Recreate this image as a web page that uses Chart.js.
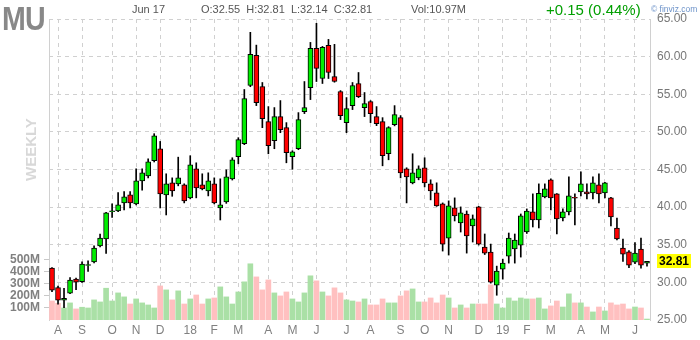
<!DOCTYPE html>
<html>
<head>
<meta charset="utf-8">
<script src="https://cdn.jsdelivr.net/npm/chart.js@4.4.0/dist/chart.umd.min.js"></script>
<style>
body { margin: 0; background: #fff; }
#wrap { position: relative; width: 700px; height: 340px; font-family: 'Liberation Sans', Arial, sans-serif; }
#c { position: absolute; left: 0; top: 0; }
.hd { position: absolute; top: 3px; font-size: 11px; color: #555; white-space: nowrap; }
#ticker { position: absolute; left: 2px; top: -1px; font-size: 34px; font-weight: bold; color: #888; transform: scaleX(0.84); transform-origin: left top; letter-spacing: -1px; }
#weekly { position: absolute; left: 22px; top: 181px; font-size: 15px; font-weight: bold; color: #d8d8d8; transform: rotate(-90deg); transform-origin: left top; }
#chg { position: absolute; left: 546px; top: 1px; font-size: 15px; color: #009f00; white-space: nowrap; }
#fv { position: absolute; left: 651px; top: 4px; font-size: 8.5px; color: #6d93c9; white-space: nowrap; }
</style>
</head>
<body>
<div id="wrap">
  <canvas id="c" width="700" height="340"></canvas>
  <div id="ticker">MU</div>
  <div id="weekly">WEEKLY</div>
  <div class="hd" style="left:132px">Jun 17</div>
  <div class="hd" style="left:201px">O:32.55&nbsp; H:32.81&nbsp; L:32.14&nbsp; C:32.81</div>
  <div class="hd" style="left:411px">Vol:10.97M</div>
  <div id="chg">+0.15 (0.44%)</div>
  <div id="fv">&copy; finviz.com</div>
</div>
<script>
// weekly bars, first week starts Mon Jul 24 2017
let startWeek = Date.UTC(2017, 6, 24);

let opens = [31.9, 29.3, 27.63, 28.56, 30.43, 30.11, 32.25, 32.73, 34.83, 35.76,
  39.4, 39.49, 40.56, 41.63, 40.43, 43.49, 44.16, 46.16, 47.76, 41.63,
  43.23, 43.09, 42.96, 41.23, 45.09, 42.96, 42.16, 43.09, 39.89, 40.69,
  43.76, 46.69, 48.43, 56.16, 60.16, 56.03, 51.36, 48.83, 52.03, 50.56,
  46.69, 47.76, 52.69, 55.89, 61.09, 57.09, 61.49, 57.36, 55.36, 51.23,
  53.49, 56.43, 53.23, 54.03, 52.03, 51.36, 47.09, 50.96, 51.89, 45.09,
  43.23, 43.89, 45.23, 43.09, 41.89, 40.43, 35.89, 39.89, 37.89, 39.09,
  37.49, 40.03, 34.69, 34.03, 29.63, 31.76, 33.49, 34.43, 34.96, 36.69,
  39.36, 38.29, 41.36, 43.63, 41.76, 38.56, 39.36, 41.3, 42.03, 42.03,
  41.89, 42.96, 41.89, 41.23, 37.23, 34.56, 34.07, 32.69, 34.43, 32.55];
let highs = [31.95, 29.5, 29.2, 30.64, 30.56, 32.73, 32.87, 34.87, 36.42, 39.3,
  40.43, 41.93, 42.07, 42.07, 45.09, 45.09, 46.43, 49.76, 48.73, 44.43,
  43.89, 46.64, 43.1, 46.83, 45.89, 44.43, 44.56, 43.89, 43.76, 44.96,
  46.56, 49.23, 55.63, 63.23, 61.53, 56.56, 53.36, 53.23, 54.16, 51.23,
  47.49, 52.56, 56.69, 61.89, 64.43, 61.36, 62.29, 61.63, 55.49, 54.56,
  56.56, 57.89, 55.23, 54.16, 53.36, 51.89, 50.69, 53.49, 52.16, 45.23,
  47.09, 45.49, 46.56, 43.63, 43.23, 40.56, 40.83, 41.23, 40.03, 39.49,
  38.96, 40.1, 36.43, 35.09, 32.16, 33.09, 36.56, 36.43, 39.09, 39.76,
  41.76, 43.09, 43.09, 43.76, 41.8, 39.76, 44.03, 41.76, 44.69, 43.09,
  44.03, 44.43, 43.3, 41.3, 38.56, 35.76, 34.24, 35.3, 35.89, 32.81];
let lows = [28.77, 27.1, 26.64, 28.5, 29.04, 30.0, 31.44, 32.6, 34.7, 33.84,
  38.64, 39.4, 39.63, 39.89, 40.3, 42.24, 43.89, 46.0, 39.89, 38.96,
  41.44, 42.83, 40.56, 41.1, 41.23, 42.29, 41.49, 40.43, 38.29, 40.5,
  43.6, 45.76, 48.3, 56.0, 53.49, 50.56, 47.09, 47.76, 49.89, 45.89,
  45.04, 47.63, 52.43, 54.29, 56.69, 56.43, 57.09, 56.6, 51.63, 49.89,
  52.96, 54.56, 52.03, 51.23, 50.83, 45.49, 46.29, 50.8, 43.89, 40.56,
  43.09, 43.63, 42.69, 40.96, 40.1, 34.16, 33.63, 38.16, 36.69, 33.89,
  35.36, 34.96, 33.7, 29.9, 28.29, 30.43, 32.56, 32.56, 33.36, 36.5,
  37.36, 37.23, 41.23, 39.63, 36.43, 38.16, 38.96, 37.63, 41.49, 41.09,
  41.09, 40.56, 41.23, 37.49, 35.63, 32.77, 31.97, 32.5, 31.9, 32.14];
let closes = [28.96, 27.63, 27.89, 30.29, 30.03, 32.43, 32.35, 34.56, 35.89, 39.23,
  39.5, 40.29, 41.36, 40.56, 43.49, 44.56, 46.03, 49.49, 41.76, 43.09,
  42.16, 43.89, 40.83, 45.63, 42.56, 42.43, 43.49, 40.56, 40.29, 44.03,
  46.29, 48.96, 54.43, 60.29, 53.89, 51.76, 48.16, 52.03, 50.29, 47.23,
  47.36, 51.63, 53.23, 61.09, 58.43, 61.23, 57.89, 56.69, 52.16, 53.09,
  56.16, 54.69, 53.76, 52.43, 51.09, 46.83, 50.56, 52.29, 44.56, 44.03,
  44.56, 45.09, 43.23, 42.16, 40.16, 35.09, 40.16, 38.83, 39.23, 36.16,
  38.43, 35.09, 33.89, 30.03, 31.49, 32.56, 35.89, 35.63, 38.83, 39.49,
  38.29, 41.84, 42.43, 41.23, 38.43, 39.36, 41.49, 41.2, 43.09, 41.76,
  43.23, 41.76, 43.23, 38.69, 35.76, 33.76, 32.29, 33.89, 32.29, 32.81];
// volume in millions of shares
let volumes = [158, 139, 100, 142, 92, 106, 100, 167, 150, 264,
  158, 225, 192, 133, 175, 142, 125, 100, 283, 250,
  167, 242, 133, 175, 208, 133, 175, 183, 275, 192,
  133, 233, 317, 467, 358, 250, 333, 225, 200, 233,
  175, 150, 225, 367, 325, 233, 200, 267, 225, 167,
  158, 150, 175, 125, 125, 175, 142, 142, 200, 242,
  258, 150, 150, 183, 142, 208, 183, 100, 125, 100,
  133, 133, 133, 292, 133, 100, 183, 158, 183, 175,
  175, 183, 92, 117, 158, 108, 217, 142, 142, 108,
  67, 108, 75, 142, 125, 133, 92, 108, 100, 8];

let volTicks = [100, 200, 300, 400, 500];
let monthLetters = ['J', 'F', 'M', 'A', 'M', 'J', 'J', 'A', 'S', 'O', 'N', 'D'];

// a month label goes on the first week whose friday falls in that month
let weekLabels = opens.map((o, i) => {
    let fri = new Date(startWeek + (i * 7 + 4) * 86400000);
    let prev = new Date(startWeek + (i * 7 - 3) * 86400000);
    if (i == 0 || fri.getUTCMonth() == prev.getUTCMonth()) return '';
    let m = fri.getUTCMonth();
    return m == 0 ? String(fri.getUTCFullYear()).slice(2) : monthLetters[m];
});

let up = closes.map((c, i) => c >= opens[i]);

let lastPrice = {
    id: 'lastPrice',
    afterDraw(chart) {
        let c = chart.ctx;
        let last = closes[closes.length - 1];
        let y = chart.scales.y.getPixelForValue(last);
        c.save();
        c.fillStyle = '#ffff00';
        c.fillRect(657, Math.round(y) - 7, 34, 14);
        c.fillStyle = '#000';
        c.font = 'bold 12px "Liberation Sans", Arial';
        c.textBaseline = 'middle';
        c.fillText(last.toFixed(2), 659, Math.round(y) + 1);
        c.restore();
    }
};

let ctx = document.getElementById('c').getContext('2d');
let chart = new Chart(ctx, {
    type: 'bar',
    data: {
        labels: weekLabels,
        datasets: [{
            label: 'body',
            data: opens.map((o, i) => [Math.min(o, closes[i]), Math.max(o, closes[i])]),
            backgroundColor: up.map(u => u ? '#00ee00' : '#ff0000'),
            borderColor: '#000',
            borderWidth: 1,
            borderSkipped: false,
            barThickness: 5,
            grouped: false,
            order: 1,
            yAxisID: 'y'
        }, {
            label: 'wick',
            data: lows.map((l, i) => [l, highs[i]]),
            backgroundColor: '#000',
            barThickness: 1,
            grouped: false,
            order: 2,
            yAxisID: 'y'
        }, {
            label: 'volume',
            data: volumes,
            backgroundColor: up.map(u => u ? '#aae0a6' : '#ffc0c0'),
            barThickness: 5,
            grouped: false,
            order: 3,
            yAxisID: 'v'
        }]
    },
    options: {
        responsive: false,
        animation: false,
        layout: { padding: { top: 19 } },
        plugins: { legend: { display: false }, tooltip: { enabled: false } },
        scales: {
            x: {
                grid: {
                    offset: false,
                    drawTicks: false,
                    color: c => weekLabels[c.index] ? '#d0d0d0' : 'rgba(0,0,0,0)'
                },
                border: { display: false, dash: [4, 4] },
                ticks: { autoSkip: false, maxRotation: 0, padding: 3, color: '#808080', font: { size: 12, family: 'Liberation Sans' } },
                afterFit: s => { s.height = 20; }
            },
            y: {
                position: 'right',
                min: 25,
                max: 65,
                ticks: { stepSize: 5, callback: v => v.toFixed(2), color: '#777', padding: 7, font: { size: 12, family: 'Liberation Sans' } },
                grid: { drawTicks: false, color: c => c.tick.value == 25 ? 'rgba(0,0,0,0)' : '#d0d0d0' },
                border: { color: '#d0d0d0', dash: [4, 4] },
                afterFit: s => { s.width = 50; }
            },
            v: {
                position: 'left',
                min: 0,
                max: 2500,
                afterBuildTicks: s => { s.ticks = volTicks.map(v => ({ value: v })); },
                ticks: { callback: v => v + 'M', color: '#808080', padding: 4, font: { size: 12, weight: 'bold', family: 'Liberation Sans' } },
                grid: { drawOnChartArea: false, tickLength: 5, color: '#c8c8c8' },
                border: { color: '#d0d0d0', dash: [4, 4] },
                afterFit: s => { s.width = 49; }
            }
        }
    },
    plugins: [lastPrice]
});
</script>
</body>
</html>
